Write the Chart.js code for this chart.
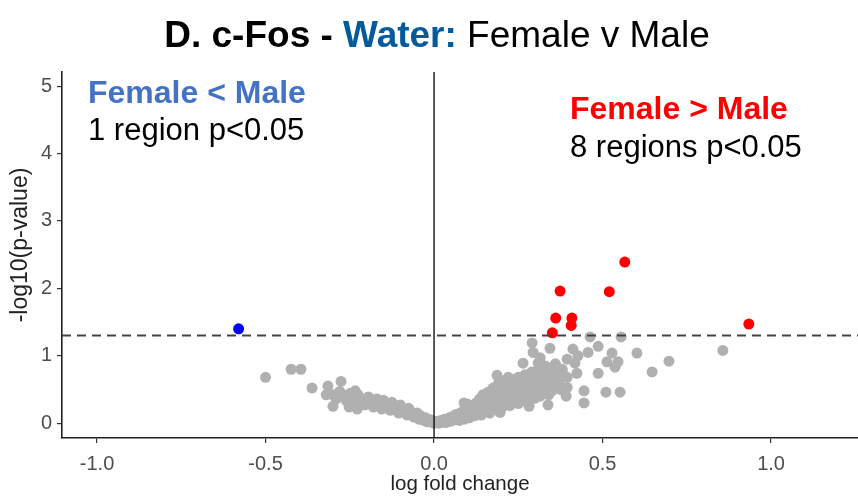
<!DOCTYPE html>
<html>
<head>
    <meta charset="UTF-8">
    <script src="https://cdn.jsdelivr.net/npm/chart.js@4.4.1/dist/chart.umd.min.js" type="text/javascript"></script>
    <title>c-Fos volcano plot - Water</title>
    <style>
        body { margin: 0; background: #fff; }
    </style>
</head>
<body>
    <canvas id="volcano" width="858" height="497"></canvas>
    <script type="text/javascript">
        // tick labels
        const xTicks = [-1.0, -0.5, 0.0, 0.5, 1.0];
        const yTicks = [0, 1, 2, 3, 4, 5];
        // -log10(0.05)
        const pThreshold = 1.301;

        // Female < Male, p<0.05
        const lowerPts = [[-0.58, 1.40]];

        // Female > Male, p<0.05
        const higherPts = [
            [0.374, 1.96], [0.566, 2.39], [0.520, 1.95], [0.361, 1.56],
            [0.409, 1.56], [0.407, 1.45], [0.351, 1.34], [0.934, 1.47]
        ];

        // not significant, negative side
        const nsLeft = [
            [-0.50, 0.68], [-0.424, 0.80], [-0.395, 0.80], [-0.362, 0.52], [-0.315, 0.55],
            [-0.276, 0.62], [-0.32, 0.42], [-0.30, 0.25], [-0.252, 0.24], [-0.234, 0.48],
            [-0.228, 0.21],
            [-0.30, 0.42], [-0.29, 0.36], [-0.28, 0.47], [-0.27, 0.40], [-0.26, 0.33],
            [-0.25, 0.44], [-0.24, 0.37], [-0.235, 0.28], [-0.225, 0.42], [-0.215, 0.34],
            [-0.205, 0.27], [-0.195, 0.39], [-0.19, 0.31], [-0.18, 0.24], [-0.17, 0.36],
            [-0.165, 0.29], [-0.155, 0.21], [-0.15, 0.34], [-0.14, 0.27], [-0.13, 0.19],
            [-0.125, 0.31], [-0.115, 0.24], [-0.105, 0.15], [-0.10, 0.27], [-0.09, 0.20],
            [-0.08, 0.12], [-0.075, 0.22], [-0.065, 0.16], [-0.06, 0.09], [-0.05, 0.15],
            [-0.045, 0.06], [-0.04, 0.11], [-0.03, 0.04], [-0.025, 0.08], [-0.02, 0.02],
            [-0.01, 0.05], [-0.005, 0.01], [0.0, 0.0]
        ];

        // not significant, positive side
        const nsRight = [
            [0.005, 0.01], [0.01, 0.03], [0.015, 0.0], [0.02, 0.04], [0.025, 0.02],
            [0.03, 0.06], [0.035, 0.01], [0.04, 0.05], [0.045, 0.08], [0.05, 0.03],
            [0.055, 0.10], [0.06, 0.05], [0.065, 0.13], [0.07, 0.08], [0.075, 0.04],
            [0.08, 0.16], [0.085, 0.10], [0.09, 0.06], [0.095, 0.20], [0.10, 0.13],
            [0.10, 0.28], [0.105, 0.08], [0.11, 0.18], [0.115, 0.24], [0.12, 0.11],
            [0.125, 0.30], [0.13, 0.16], [0.135, 0.36], [0.14, 0.22], [0.14, 0.12],
            [0.145, 0.42], [0.15, 0.28], [0.15, 0.18], [0.155, 0.34], [0.16, 0.46],
            [0.16, 0.22], [0.165, 0.15], [0.17, 0.40], [0.17, 0.28], [0.175, 0.52],
            [0.18, 0.33], [0.18, 0.21], [0.185, 0.45], [0.19, 0.58], [0.19, 0.27],
            [0.195, 0.38], [0.20, 0.50], [0.20, 0.31], [0.20, 0.22], [0.205, 0.62],
            [0.21, 0.43], [0.21, 0.28], [0.215, 0.55], [0.22, 0.36], [0.225, 0.48],
            [0.225, 0.26], [0.23, 0.65], [0.23, 0.40], [0.235, 0.31], [0.24, 0.56],
            [0.24, 0.44], [0.245, 0.35], [0.25, 0.68], [0.25, 0.50], [0.25, 0.29],
            [0.255, 0.40], [0.26, 0.60], [0.26, 0.33], [0.265, 0.48], [0.27, 0.72],
            [0.27, 0.38], [0.275, 0.55], [0.28, 0.44], [0.28, 0.64], [0.285, 0.35],
            [0.29, 0.50], [0.29, 0.76], [0.295, 0.42], [0.30, 0.58], [0.30, 0.37],
            [0.305, 0.68], [0.31, 0.47], [0.31, 0.80], [0.315, 0.40], [0.32, 0.55],
            [0.32, 0.72], [0.325, 0.44], [0.33, 0.62], [0.33, 0.85], [0.335, 0.50],
            [0.34, 0.70], [0.34, 0.42], [0.345, 0.58], [0.35, 0.78], [0.35, 0.48],
            [0.355, 0.65], [0.36, 0.55], [0.36, 0.88], [0.365, 0.72], [0.37, 0.60],
            [0.375, 0.50], [0.38, 0.80],
            [0.291, 1.19], [0.344, 1.11], [0.412, 1.10], [0.463, 1.28], [0.487, 1.14],
            [0.457, 1.05], [0.395, 0.95], [0.427, 1.00], [0.555, 1.28], [0.528, 1.04],
            [0.602, 1.04], [0.513, 0.91], [0.546, 0.91], [0.537, 0.83], [0.418, 0.89],
            [0.380, 0.79], [0.424, 0.74], [0.395, 0.68], [0.487, 0.74], [0.647, 0.76],
            [0.697, 0.92], [0.857, 1.08], [0.395, 0.53], [0.392, 0.40], [0.445, 0.48],
            [0.510, 0.46], [0.552, 0.46], [0.445, 0.30], [0.338, 0.27], [0.282, 0.25],
            [0.264, 0.89], [0.309, 0.89], [0.294, 1.05], [0.315, 0.97], [0.365, 0.83],
            [0.187, 0.71], [0.220, 0.68], [0.196, 0.16], [0.089, 0.30]
        ];

        const toXY = arr => arr.map(p => ({ x: p[0], y: p[1] }));
        const fam = '"Liberation Sans", Arial, sans-serif';

        // title, annotations, reference lines
        const overlay = {
            id: 'overlay',
            afterDatasetsDraw(chart) {
                const ctx = chart.ctx;
                const xs = chart.scales.x, ys = chart.scales.y;
                const area = chart.chartArea;
                ctx.save();
                // x = 0
                ctx.strokeStyle = '#000';
                ctx.lineWidth = 1.3;
                const x0 = xs.getPixelForValue(0);
                ctx.beginPath();
                ctx.moveTo(x0, area.top);
                ctx.lineTo(x0, area.bottom);
                ctx.stroke();
                // p = 0.05
                ctx.strokeStyle = '#444';
                ctx.lineWidth = 2;
                ctx.setLineDash([9, 6]);
                const yp = ys.getPixelForValue(pThreshold);
                ctx.beginPath();
                ctx.moveTo(area.left, yp);
                ctx.lineTo(area.right, yp);
                ctx.stroke();
                ctx.restore();
            },
            afterDraw(chart) {
                const ctx = chart.ctx;
                ctx.save();
                ctx.textBaseline = 'alphabetic';
                ctx.textAlign = 'left';

                const parts = [
                    { t: 'D. c-Fos - ', w: 'bold', c: '#000' },
                    { t: 'Water:', w: 'bold', c: '#005a9c' },
                    { t: ' Female v Male', w: 'normal', c: '#000' }
                ];
                let total = 0;
                parts.forEach(p => {
                    ctx.font = p.w + ' 37px ' + fam;
                    p.width = ctx.measureText(p.t).width;
                    total += p.width;
                });
                let x = 437 - total / 2;
                parts.forEach(p => {
                    ctx.font = p.w + ' 37px ' + fam;
                    ctx.fillStyle = p.c;
                    ctx.fillText(p.t, x, 47);
                    x += p.width;
                });

                ctx.font = 'bold 32px ' + fam;
                ctx.fillStyle = '#4472c4';
                ctx.fillText('Female < Male', 88, 103);
                ctx.font = '31px ' + fam;
                ctx.fillStyle = '#000';
                ctx.fillText('1 region p<0.05', 88, 140);

                ctx.font = 'bold 32px ' + fam;
                ctx.fillStyle = '#ff0000';
                ctx.fillText('Female > Male', 570, 119);
                ctx.font = '31px ' + fam;
                ctx.fillStyle = '#000';
                ctx.fillText('8 regions p<0.05', 570, 157);

                // y axis title
                ctx.font = '23px ' + fam;
                ctx.fillStyle = '#222';
                ctx.textAlign = 'center';
                ctx.textBaseline = 'middle';
                ctx.translate(21, 245);
                ctx.rotate(-Math.PI / 2);
                ctx.fillText('-log10(p-value)', 0, 0);
                ctx.restore();
            }
        };

        Chart.defaults.font.family = fam;

        const ctx = document.getElementById('volcano').getContext('2d');
        const volcano = new Chart(ctx, {
            type: 'scatter',
            data: {
                datasets: [
                    {
                        label: 'Female < Male',
                        data: toXY(lowerPts),
                        backgroundColor: '#0000ff',
                        pointRadius: 5.5,
                        borderWidth: 0
                    },
                    {
                        label: 'Female > Male',
                        data: toXY(higherPts),
                        backgroundColor: '#ff0000',
                        pointRadius: 5.5,
                        borderWidth: 0
                    },
                    {
                        label: 'n.s.',
                        data: toXY(nsLeft.concat(nsRight)),
                        backgroundColor: '#b0b0b0',
                        pointRadius: 5.5,
                        borderWidth: 0
                    }
                ]
            },
            options: {
                responsive: false,
                animation: false,
                layout: { autoPadding: false, padding: { top: 72, left: 0, right: 0, bottom: 0 } },
                plugins: {
                    legend: { display: false },
                    tooltip: { enabled: false }
                },
                scales: {
                    x: {
                        type: 'linear',
                        min: -1.104,
                        max: 1.258,
                        afterBuildTicks: s => { s.ticks = xTicks.map(v => ({ value: v })); },
                        afterFit: s => { s.height = 59; },
                        ticks: {
                            callback: v => v.toFixed(1),
                            font: { size: 20 },
                            color: '#4d4d4d',
                            padding: 9,
                            maxRotation: 0
                        },
                        grid: { drawOnChartArea: false, tickLength: 5, tickColor: '#333', lineWidth: 1.2 },
                        border: { color: '#222', width: 1.6 },
                        title: {
                            display: true,
                            text: 'log fold change',
                            font: { size: 20.5 },
                            color: '#222',
                            padding: { top: 0, bottom: 0 }
                        }
                    },
                    y: {
                        type: 'linear',
                        min: -0.22,
                        max: 5.21,
                        afterBuildTicks: s => { s.ticks = yTicks.map(v => ({ value: v })); },
                        afterFit: s => { s.width = 62; },
                        ticks: {
                            font: { size: 20 },
                            color: '#4d4d4d',
                            padding: 5
                        },
                        grid: { drawOnChartArea: false, tickLength: 5, tickColor: '#333', lineWidth: 1.2 },
                        border: { color: '#222', width: 1.6 }
                    }
                }
            },
            plugins: [overlay]
        });
    </script>
</body>
</html>
